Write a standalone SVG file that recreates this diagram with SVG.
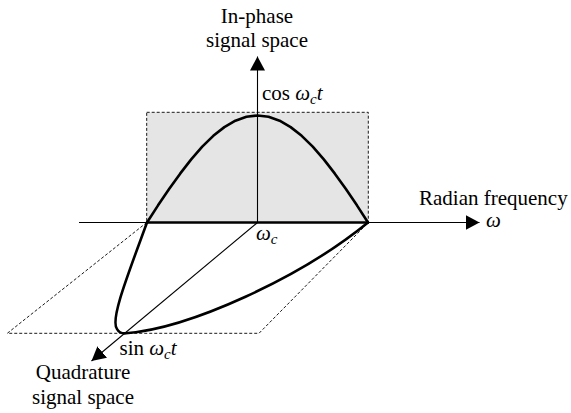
<svg xmlns="http://www.w3.org/2000/svg" width="571" height="413" viewBox="0 0 571 413">
<style>
text{font-family:'Liberation Serif','DejaVu Serif','Times New Roman',serif;font-size:21px;fill:#000}
.i{font-style:italic}
.sub{font-style:italic;font-size:15px}
.thin{fill:none;stroke:#000;stroke-width:1.1}
.dash{fill:none;stroke:#000;stroke-width:0.9;stroke-dasharray:3,2}
.bold{fill:none;stroke:#000;stroke-width:2.6;stroke-linejoin:round;stroke-linecap:round}
</style>
<defs>
<marker id="ah" markerUnits="userSpaceOnUse" markerWidth="15" markerHeight="15" refX="14" refY="7.5" orient="auto">
<path d="M0,0 L14,7.5 L0,15 z" fill="#000"/>
</marker>
</defs>
<rect width="571" height="413" fill="#fff"/>
<g id="inphase-plane">
<rect x="146.7" y="112.3" width="221.6" height="110.2" style="fill:#e5e5e5;stroke:#000;stroke-width:0.9;stroke-dasharray:3,2"/>
</g>
<g id="quadrature-plane">
<path class="dash" d="M146.7,222.5 L7.3,333.3 L259,333.3 L368.3,222.5"/>
</g>
<g id="connectors">
<line class="thin" x1="79" y1="222.5" x2="479.5" y2="222.5" marker-end="url(#ah)"/>
<line class="thin" x1="257.5" y1="222.5" x2="257.5" y2="56.5" marker-end="url(#ah)"/>
<line class="thin" x1="257.5" y1="222.5" x2="91.5" y2="361" marker-end="url(#ah)"/>
</g>
<g id="curves">
<line class="bold" x1="147" y1="222.5" x2="368" y2="222.5"/>
<polyline class="bold" points="147,222.5 158.05,205.34 169.1,189.09 180.15,173.65 191.2,159.4 202.25,146.69 213.3,135.84 224.35,127.11 235.4,120.71 246.45,116.81 257.5,115.5 268.55,116.81 279.6,120.71 290.65,127.11 301.7,135.84 312.75,146.69 323.8,159.4 334.85,173.65 345.9,189.09 356.95,205.34 368,222.5"/>
<path class="bold" d="M147,222.5 C127,277 110,320 117,329 C119,333 122,333.6 126,333.3 C190,328 300,278 368,222.5"/>
</g>
<g id="labels">
<text x="257" y="23" text-anchor="middle">In-phase</text>
<text x="257" y="47" text-anchor="middle">signal space</text>
<text x="262" y="99.5">cos <tspan class="i">ω</tspan><tspan class="sub" dy="4">c</tspan><tspan class="i" dy="-4">t</tspan></text>
<text x="419" y="205">Radian frequency</text>
<text class="i" x="486" y="227">ω</text>
<text x="256" y="240"><tspan class="i">ω</tspan><tspan class="sub" dy="4">c</tspan></text>
<text x="119.5" y="355">sin <tspan class="i">ω</tspan><tspan class="sub" dy="4">c</tspan><tspan class="i" dy="-4">t</tspan></text>
<text x="83" y="379" text-anchor="middle">Quadrature</text>
<text x="83" y="404" text-anchor="middle">signal space</text>
</g>
</svg>
